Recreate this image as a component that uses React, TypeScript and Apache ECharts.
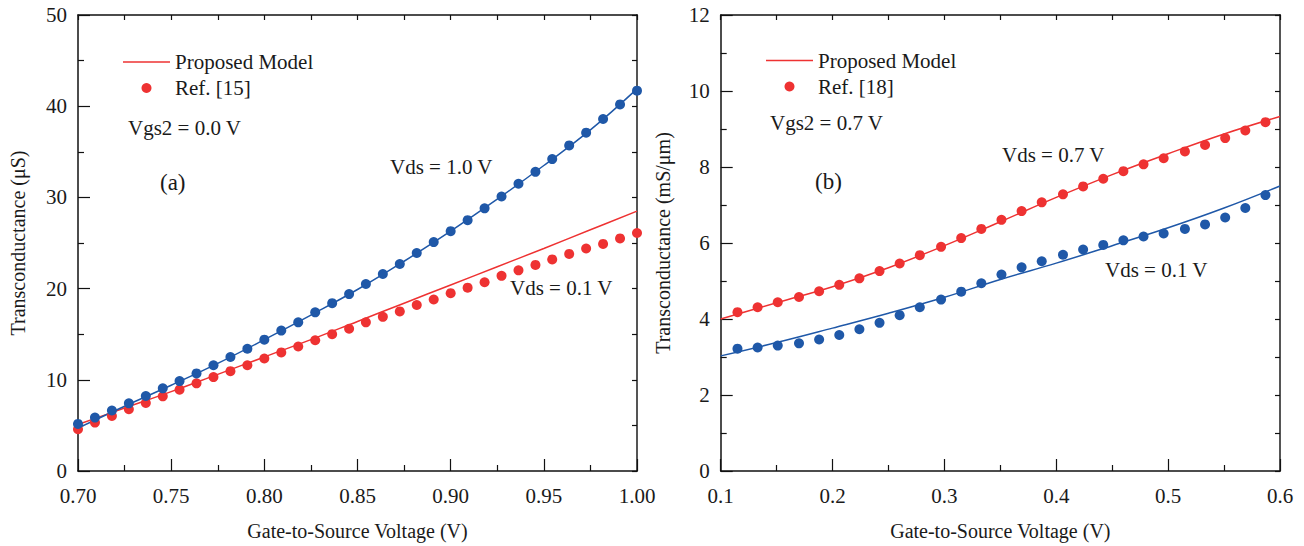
import React, { useEffect, useRef } from "react";
import * as echarts from "echarts";

// ---------- Panel (a) ----------
const xDotsA = [
  0.7, 0.7091, 0.7182, 0.7273, 0.7364, 0.7455, 0.7545, 0.7636, 0.7727, 0.7818, 0.7909, 0.8,
  0.8091, 0.8182, 0.8273, 0.8364, 0.8455, 0.8545, 0.8636, 0.8727, 0.8818, 0.8909, 0.9, 0.9091,
  0.9182, 0.9273, 0.9364, 0.9455, 0.9545, 0.9636, 0.9727, 0.9818, 0.9909, 1.0,
];
const refA_vds10 = [
  5.16, 5.86, 6.63, 7.42, 8.22, 9.06, 9.86, 10.7, 11.6, 12.5, 13.4, 14.4, 15.4, 16.3, 17.4, 18.4,
  19.4, 20.5, 21.6, 22.7, 23.9, 25.1, 26.3, 27.5, 28.8, 30.1, 31.5, 32.8, 34.2, 35.7, 37.1, 38.6,
  40.2, 41.7,
];
const refA_vds01 = [
  4.59, 5.31, 6.04, 6.77, 7.46, 8.19, 8.92, 9.61, 10.3, 10.95, 11.6, 12.34, 13.0, 13.65, 14.34,
  15.0, 15.6, 16.3, 16.9, 17.5, 18.2, 18.8, 19.5, 20.1, 20.7, 21.4, 22.0, 22.6, 23.2, 23.8, 24.4,
  24.9, 25.5, 26.1,
];
const xModelA = [0.7, 0.725, 0.75, 0.775, 0.8, 0.825, 0.85, 0.875, 0.9, 0.925, 0.95, 0.975, 1.0];
const modelA_vds10 = [4.7, 7.1, 9.4, 11.8, 14.4, 17.1, 19.9, 23.0, 26.3, 29.8, 33.5, 37.4, 41.9];
const modelA_vds01 = [5.1, 6.9, 8.7, 10.6, 12.5, 14.4, 16.4, 18.4, 20.4, 22.4, 24.4, 26.45, 28.5];

// ---------- Panel (b) ----------
const xDotsB = [
  0.115, 0.133, 0.151, 0.17, 0.188, 0.206, 0.224, 0.242, 0.26, 0.278, 0.297, 0.315, 0.333, 0.351,
  0.369, 0.387, 0.406, 0.424, 0.442, 0.46, 0.478, 0.496, 0.515, 0.533, 0.551, 0.569, 0.587,
];
const refB_vds07 = [
  4.18, 4.31, 4.44, 4.58, 4.73, 4.9, 5.07, 5.26, 5.46, 5.68, 5.9, 6.13, 6.37, 6.61, 6.84, 7.07,
  7.28, 7.49, 7.69, 7.89, 8.07, 8.23, 8.41, 8.58, 8.76, 8.96, 9.18,
];
const refB_vds01 = [
  3.22, 3.25, 3.3, 3.36, 3.46, 3.58, 3.73, 3.9, 4.1, 4.31, 4.51, 4.72, 4.94, 5.17, 5.36, 5.52,
  5.69, 5.83, 5.95, 6.07, 6.17, 6.25, 6.37, 6.49, 6.67, 6.92, 7.26,
];
const xModelB = [0.1, 0.15, 0.2, 0.25, 0.3, 0.35, 0.4, 0.45, 0.5, 0.55, 0.6];
const modelB_vds07 = [4.0, 4.43, 4.85, 5.35, 5.93, 6.56, 7.2, 7.8, 8.35, 8.87, 9.33];
const modelB_vds01 = [3.03, 3.38, 3.76, 4.15, 4.57, 5.04, 5.47, 5.93, 6.4, 6.92, 7.5];

const RED = "#ee3232";
const BLUE = "#1f58a8";
const FONT = "'Liberation Serif', 'Times New Roman', serif";
const TXT = "#1a1a1a";

const zip = (xs: number[], ys: number[]) => ys.map((y, i) => [xs[i], y]);

function bottomX(gridIndex: number, min: number, max: number, interval: number, digits: number, name: string) {
  return {
    type: "value",
    gridIndex,
    position: "bottom",
    min,
    max,
    interval,
    name,
    nameLocation: "middle",
    nameGap: 50,
    nameTextStyle: { fontFamily: FONT, fontSize: 20, color: TXT },
    axisLine: { show: true, onZero: false, lineStyle: { color: "#111", width: 1.5 } },
    axisTick: { show: true, inside: true, length: 12, lineStyle: { color: "#111", width: 1.2 } },
    minorTick: { show: true, splitNumber: 2, length: 6, lineStyle: { color: "#111", width: 1.2 } },
    axisLabel: {
      fontFamily: FONT,
      fontSize: 21,
      color: TXT,
      margin: 14,
      formatter: (v: number) => v.toFixed(digits),
    },
    splitLine: { show: false },
  };
}
function topX(gridIndex: number, min: number, max: number, interval: number) {
  return {
    type: "value",
    gridIndex,
    position: "top",
    min,
    max,
    interval,
    axisLine: { show: true, onZero: false, lineStyle: { color: "#111", width: 1.5 } },
    axisTick: { show: true, inside: true, length: 5, lineStyle: { color: "#111", width: 1.2 } },
    axisLabel: { show: false },
    splitLine: { show: false },
  };
}
function leftY(gridIndex: number, max: number, interval: number, name: string, gap: number) {
  return {
    type: "value",
    gridIndex,
    position: "left",
    min: 0,
    max,
    interval,
    name,
    nameLocation: "middle",
    nameGap: gap,
    nameTextStyle: { fontFamily: FONT, fontSize: 20, color: TXT },
    axisLine: { show: true, onZero: false, lineStyle: { color: "#111", width: 1.5 } },
    axisTick: { show: true, inside: true, length: 12, lineStyle: { color: "#111", width: 1.2 } },
    minorTick: { show: true, splitNumber: 2, length: 6, lineStyle: { color: "#111", width: 1.2 } },
    axisLabel: { fontFamily: FONT, fontSize: 21, color: TXT, margin: 11 },
    splitLine: { show: false },
  };
}
function rightY(gridIndex: number, max: number, interval: number) {
  return {
    type: "value",
    gridIndex,
    position: "right",
    min: 0,
    max,
    interval,
    axisLine: { show: true, onZero: false, lineStyle: { color: "#555", width: 2 } },
    axisTick: { show: true, inside: true, length: 5, lineStyle: { color: "#111", width: 1.2 } },
    axisLabel: { show: false },
    splitLine: { show: false },
  };
}

function lineSeries(name: string, xi: number, yi: number, data: number[][], color: string) {
  return {
    name,
    type: "line",
    xAxisIndex: xi,
    yAxisIndex: yi,
    data,
    smooth: 0.4,
    symbol: "none",
    showSymbol: false,
    lineStyle: { color, width: 1.5 },
    itemStyle: { color },
    z: 2,
  };
}
function dotSeries(name: string, xi: number, yi: number, data: number[][], color: string) {
  return {
    name,
    type: "scatter",
    xAxisIndex: xi,
    yAxisIndex: yi,
    data,
    symbol: "circle",
    symbolSize: 10,
    itemStyle: { color, opacity: 1 },
    z: 3,
  };
}

function txt(x: number, y: number, text: string, size = 21) {
  return {
    type: "text",
    x,
    y,
    style: { text, fontFamily: FONT, fontSize: size, fill: TXT, verticalAlign: "middle", align: "left" },
  };
}

const LINE_ICON = "path://M0,0L47,0L47,1.5L0,1.5Z";

export default function App() {
  const ref = useRef<HTMLDivElement>(null);
  useEffect(() => {
    if (!ref.current) return;
    const chart = echarts.init(ref.current, undefined, { renderer: "svg" });
    const legendCommon = {
      orient: "vertical",
      itemWidth: 47,
      itemHeight: 10,
      itemGap: 5,
      padding: 0,
      textStyle: { fontFamily: FONT, fontSize: 21, color: TXT, lineHeight: 21 },
      selectedMode: false,
    };
    chart.setOption({
      animation: false,
      backgroundColor: "#ffffff",
      grid: [
        { left: 78, top: 15, width: 559, height: 458 },
        { left: 720.7, top: 15, width: 559.3, height: 458 },
      ],
      xAxis: [
        bottomX(0, 0.7, 1.0, 0.05, 2, "Gate-to-Source Voltage (V)"),
        topX(0, 0.7, 1.0, 0.025),
        bottomX(1, 0.1, 0.6, 0.1, 1, "Gate-to-Source Voltage (V)"),
        topX(1, 0.1, 0.6, 0.05),
      ],
      yAxis: [
        leftY(0, 50, 10, "Transconductance (μS)", 50),
        rightY(0, 50, 5),
        leftY(1, 12, 2, "Transconductance (mS/μm)", 48),
        rightY(1, 12, 1),
      ],
      legend: [
        {
          ...legendCommon,
          left: 123,
          top: 51.5,
          data: [{ name: "Proposed Model", icon: LINE_ICON, itemStyle: { color: RED } }, "Ref. [15]"],
        },
        {
          ...legendCommon,
          left: 766,
          top: 50,
          data: [{ name: "Proposed Model", icon: LINE_ICON, itemStyle: { color: RED } }, "Ref. [18]"],
        },
      ],
      series: [
        lineSeries("Proposed Model", 0, 0, zip(xModelA, modelA_vds01), RED),
        lineSeries("Model (a) Vds = 1.0 V", 0, 0, zip(xModelA, modelA_vds10), BLUE),
        dotSeries("Ref. [15]", 0, 0, zip(xDotsA, refA_vds01), RED),
        dotSeries("Ref. [15] Vds = 1.0 V", 0, 0, zip(xDotsA, refA_vds10), BLUE),
        lineSeries("Proposed Model", 2, 2, zip(xModelB, modelB_vds07), RED),
        lineSeries("Model (b) Vds = 0.1 V", 2, 2, zip(xModelB, modelB_vds01), BLUE),
        dotSeries("Ref. [18]", 2, 2, zip(xDotsB, refB_vds07), RED),
        dotSeries("Ref. [18] Vds = 0.1 V", 2, 2, zip(xDotsB, refB_vds01), BLUE),
      ],
      graphic: [
        txt(128, 128, "Vgs2 = 0.0 V"),
        txt(160, 182, "(a)", 23),
        txt(390, 167, "Vds = 1.0 V"),
        txt(510, 288, "Vds = 0.1 V"),
        txt(770, 123, "Vgs2 = 0.7 V"),
        txt(815, 181, "(b)", 23),
        txt(1002, 155, "Vds = 0.7 V"),
        txt(1105, 270, "Vds = 0.1 V"),
      ],
    });
    return () => chart.dispose();
  }, []);
  return (
    <div
      ref={ref}
      style={{ position: "absolute", left: 0, top: 0, width: 1304, height: 546, background: "#fff" }}
    />
  );
}
